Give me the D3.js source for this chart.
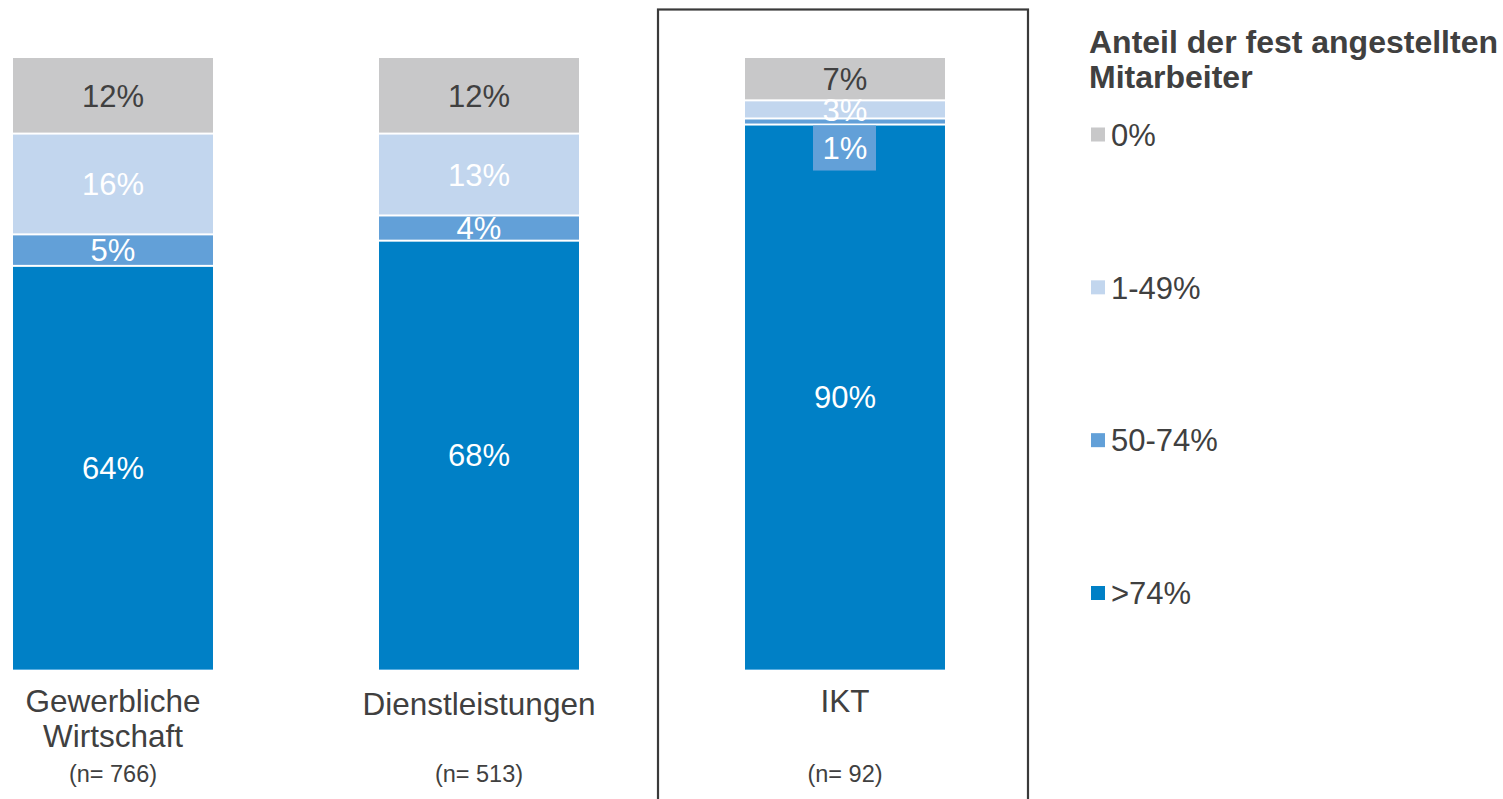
<!DOCTYPE html>
<html>
<head>
<meta charset="utf-8">
<script src="https://cdn.jsdelivr.net/npm/d3@7"></script>
<style>
  body { margin: 0; background: #fff; }
  text { font-family: "Liberation Sans", Arial, sans-serif; }
</style>
</head>
<body>
<svg width="1503" height="799"></svg>
<script>
var categories = ["Gewerbliche Wirtschaft", "Dienstleistungen", "IKT"];
var catLines = [["Gewerbliche", "Wirtschaft"], ["Dienstleistungen"], ["IKT"]];
var sampleSizes = ["(n= 766)", "(n= 513)", "(n= 92)"];

// series from bottom to top
var seriesKeys = [">74%", "50-74%", "1-49%", "0%"];
var valsOver74 = [64, 68, 90];
var vals50to74 = [5, 4, 1];
var vals1to49 = [16, 13, 3];
var valsZero = [12, 12, 7];

var legendTitle = ["Anteil der fest angestellten", "Mitarbeiter"];
var legendOrder = ["0%", "1-49%", "50-74%", ">74%"];

var colors = d3.scaleOrdinal()
    .domain(seriesKeys)
    .range(["#0080c6", "#62a0d8", "#c2d6ee", "#c8c8c9"]);

var rows = categories.map(function(c, i) {
  return {cat: c, ">74%": valsOver74[i], "50-74%": vals50to74[i], "1-49%": vals1to49[i], "0%": valsZero[i]};
});

var svg = d3.select("svg");
var textCol = "#404040";

var x = d3.scaleBand()
    .domain(categories)
    .range([-70, 1028])
    .paddingInner(0.4536)
    .paddingOuter(0.2268);

var y = d3.scaleLinear()
    .domain([0, 1])
    .range([669, 58]);

var stack = d3.stack()
    .keys(seriesKeys)
    .offset(d3.stackOffsetExpand);

var layers = stack(rows);

// box round IKT
svg.append("rect")
    .attr("x", x("IKT") - 87)
    .attr("y", 9.5)
    .attr("width", x.bandwidth() + 170)
    .attr("height", 820)
    .attr("fill", "none")
    .attr("stroke", "#3a3a3a")
    .attr("stroke-width", 2.2);

var groups = svg.append("g").selectAll("g")
  .data(layers)
  .enter().append("g")
    .attr("fill", function(d) { return colors(d.key); });

groups.selectAll("rect")
  .data(function(d) { return d.map(function(p) { p.key = d.key; return p; }); })
  .enter().append("rect")
    .attr("x", function(d) { return x(d.data.cat); })
    .attr("width", x.bandwidth())
    .attr("y", function(d) { return y(d[1]) + (d[1] >= 0.999 ? 0 : 1); })
    .attr("height", function(d) {
      var top = y(d[1]) + (d[1] >= 0.999 ? 0 : 1);
      var bot = y(d[0]) - (d[0] <= 0.001 ? 0 : 1);
      return Math.max(bot - top, 0);
    });

// thin light edge under blue bars
svg.append("g").selectAll("line")
  .data(categories)
  .enter().append("line")
    .attr("x1", function(d) { return x(d); })
    .attr("x2", function(d) { return x(d) + x.bandwidth(); })
    .attr("y1", y(0) + 0.5)
    .attr("y2", y(0) + 0.5)
    .attr("stroke", "#5aaee0")
    .attr("stroke-width", 1);

// value labels
var labels = svg.append("g");
layers.forEach(function(layer) {
  layer.forEach(function(d) {
    var cx = x(d.data.cat) + x.bandwidth() / 2;
    var h = y(d[0]) - y(d[1]);
    var cy = (y(d[0]) + y(d[1])) / 2;
    var txt = d.data[layer.key] + "%";
    if (h < 10) {
      // callout box below the thin segment
      var top = y(d[0]) + 1;
      labels.append("rect")
          .attr("x", cx - 32)
          .attr("y", top)
          .attr("width", 63)
          .attr("height", 45)
          .attr("fill", colors(layer.key));
      cy = top + 22.5;
    }
    labels.append("text")
        .attr("x", cx)
        .attr("y", cy)
        .attr("dy", "0.36em")
        .attr("text-anchor", "middle")
        .attr("font-size", 31)
        .attr("fill", layer.key === "0%" ? textCol : "#fff")
        .text(txt);
  });
});

// category labels
var cats = svg.append("g");
categories.forEach(function(c, i) {
  var lines = catLines[i];
  var cx = x(c) + x.bandwidth() / 2;
  var base = c === "Dienstleistungen" ? 715 : 712;
  lines.forEach(function(l, j) {
    cats.append("text")
        .attr("x", cx)
        .attr("y", base + j * 35)
        .attr("text-anchor", "middle")
        .attr("font-size", 31.5)
        .attr("fill", textCol)
        .text(l);
  });
  cats.append("text")
      .attr("x", cx)
      .attr("y", 782)
      .attr("text-anchor", "middle")
      .attr("font-size", 23.5)
      .attr("fill", textCol)
      .text(sampleSizes[i]);
});

// legend
var lg = svg.append("g").attr("transform", "translate(1089,0)");
lg.selectAll("text.title")
  .data(legendTitle)
  .enter().append("text")
    .attr("class", "title")
    .attr("x", 0)
    .attr("y", function(d, i) { return 53 + i * 35; })
    .attr("font-size", 32)
    .attr("font-weight", "bold")
    .attr("fill", textCol)
    .text(function(d) { return d; });

var ly = d3.scalePoint()
    .domain(legendOrder)
    .range([134.5, 593]);

var items = lg.selectAll("g.item")
  .data(legendOrder)
  .enter().append("g")
    .attr("class", "item")
    .attr("transform", function(d) { return "translate(0," + ly(d) + ")"; });

items.append("rect")
    .attr("x", 2)
    .attr("y", -7)
    .attr("width", 14)
    .attr("height", 14)
    .attr("fill", function(d) { return colors(d); });

items.append("text")
    .attr("x", 22)
    .attr("y", 0)
    .attr("dy", "0.36em")
    .attr("font-size", 31)
    .attr("fill", textCol)
    .text(function(d) { return d; });
</script>
</body>
</html>
